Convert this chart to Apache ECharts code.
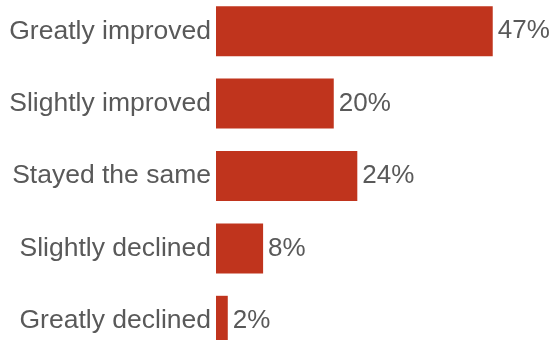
<!DOCTYPE html>
<html><head><meta charset="utf-8">
<script src="https://cdn.jsdelivr.net/npm/echarts@6/dist/echarts.min.js"></script>
<style>html,body{margin:0;padding:0;background:#fff;overflow:hidden;width:550px;height:340px}#c{position:absolute;left:0;top:-5px;width:550px;height:362px}</style>
</head><body><div id="c"></div>
<script>
var categories = ["Greatly improved", "Slightly improved", "Stayed the same", "Slightly declined", "Greatly declined"];
var values = [47, 20, 24, 8, 2];

var chart = echarts.init(document.getElementById('c'), null, {renderer: 'canvas'});
chart.setOption({
  animation: false,
  grid: {left: 216, right: 39.6, top: 0, bottom: 0, containLabel: false},
  xAxis: {type: 'value', min: 0, max: 50, show: false},
  yAxis: {
    type: 'category', data: categories, inverse: true,
    axisLine: {show: false}, axisTick: {show: false}, splitLine: {show: false},
    axisLabel: {margin: 5, color: '#595959', fontSize: 26.5, fontFamily: 'Liberation Sans, Arial, sans-serif'}
  },
  series: [{
    type: 'bar', data: values, barWidth: 50,
    itemStyle: {color: '#C0341D'},
    label: {show: true, position: 'right', distance: 5, formatter: '{c}%', color: '#595959', fontSize: 26, fontFamily: 'Liberation Sans, Arial, sans-serif'}
  }]
});
</script></body></html>
